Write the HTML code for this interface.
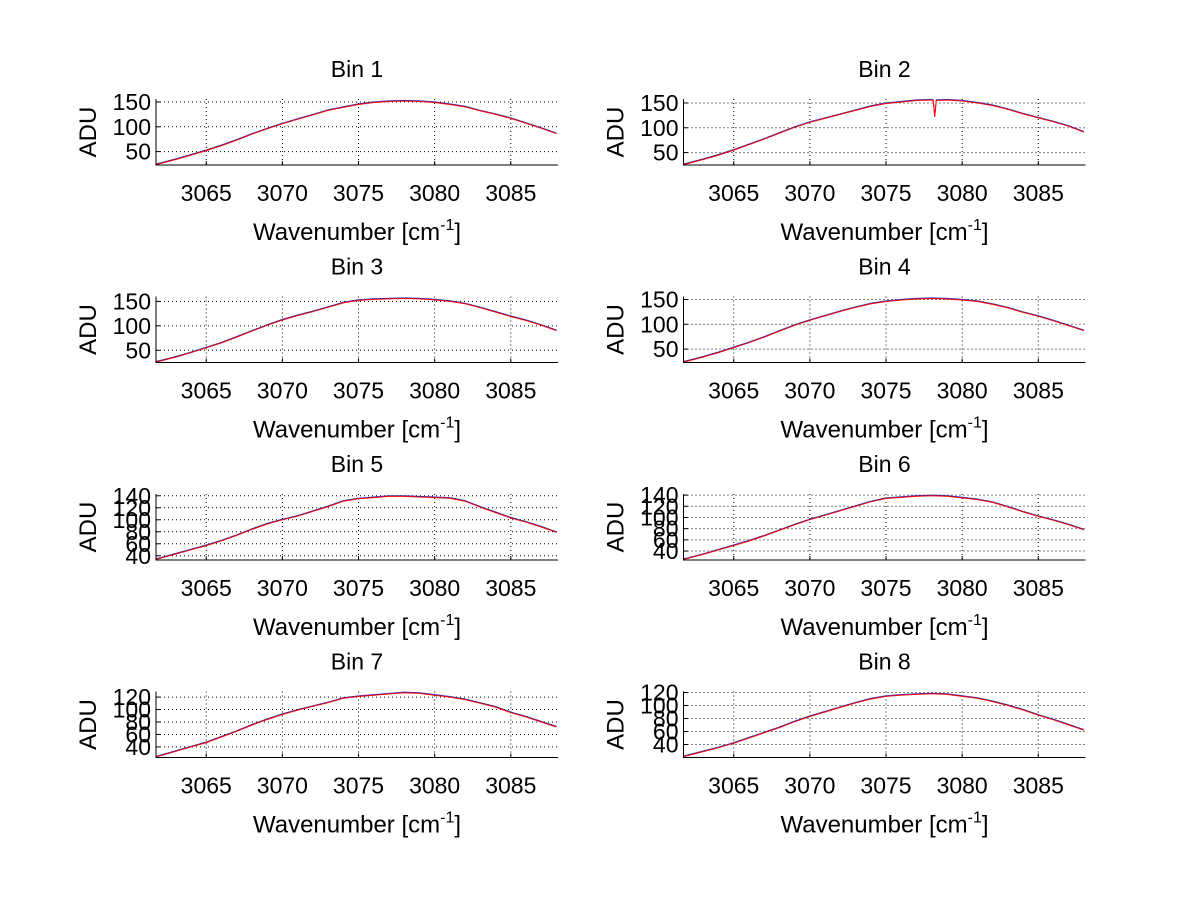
<!DOCTYPE html>
<html><head><meta charset="utf-8"><style>
body{margin:0;background:#fff;}
svg{display:block;font-family:"Liberation Sans",sans-serif;}
</style></head><body>
<svg id="fig" width="1200" height="901" viewBox="0 0 1200 901"></svg>
<script>
const wn = [3061.7,3062,3063,3064,3065,3066,3067,3068,3069,3070,3071,3072,3073,3074,3075,3076,3077,3078,3079,3080,3081,3082,3083,3084,3085,3086,3087,3088];
const wn2 = [3061.7,3062,3063,3064,3065,3066,3067,3068,3069,3070,3071,3072,3073,3074,3075,3076,3077,3078,3078.1,3078.2,3078.3,3079,3080,3081,3082,3083,3084,3085,3086,3087,3088];
const bin1 = [24,26,34,43,52,62,73,85,96,106,115,124,133,139,145,149,151,152,151,149,145,140,132,125,117,107,97,86];
const bin2 = [26,28,36,45,55,66,77,89,101,111,119,127,135,143,149,152,155,156,155,122,155,156,154,150,145,137,128,120,112,103,91];
const bin3 = [26,28,36,45,55,65,77,89,101,112,121,129,138,147,152,154,155,156,155,153,150,145,137,128,119,111,101,90];
const bin4 = [24,26,34,43,53,63,74,86,98,108,117,126,134,141,146,149,151,152,151,149,146,140,133,124,116,107,97,87];
const bin5 = [34,36,43,50,57,65,74,84,93,100,106,114,122,131,135,137,139,139,138,137,136,131,121,112,103,96,88,79];
const bin6 = [25,27,34,42,50,58,67,77,87,96,104,112,120,128,134,136,138,139,138,135,132,127,119,110,102,95,87,78];
const bin7 = [24,26,33,40,47,56,65,75,84,92,99,105,111,118,121,123,125,127,126,123,120,116,110,104,95,88,80,72];
const bin8 = [21,23,29,35,42,50,58,66,75,83,90,97,104,110,114,116,117,118,117,114,111,106,100,93,85,78,70,62];
const xTicks = [3065,3070,3075,3080,3085];
const yTicksA = [50,100,150];
const yTicksB = [40,60,80,100,120,140];
const yTicksC = [40,60,80,100,120];
const yLims = [[23,156],[25,158],[25,160],[23,156],[33,143],[24,142],[23,129],[20,121.5]];
const titles = ["Bin 1","Bin 2","Bin 3","Bin 4","Bin 5","Bin 6","Bin 7","Bin 8"];

const NS="http://www.w3.org/2000/svg";
const svg=document.getElementById('fig');
function mk(tag,attrs,parent){const e=document.createElementNS(NS,tag);for(const k in attrs)e.setAttribute(k,attrs[k]);(parent||svg).appendChild(e);return e;}
const series=[[wn,bin1],[wn2,bin2],[wn,bin3],[wn,bin4],[wn,bin5],[wn,bin6],[wn,bin7],[wn,bin8]];
const yticksFor=[yTicksA,yTicksA,yTicksA,yTicksA,yTicksB,yTicksB,yTicksC,yTicksC];
const tops=[99,296.5,494,691.5];
const lefts=[156,683.5];
const W=402,H=66,X0=3061.7,X1=3088.1;
for(let i=0;i<8;i++){
  const L=lefts[i%2],T=tops[Math.floor(i/2)];
  const g=mk('g',{});
  
  
  const [y0,y1]=yLims[i];
  const sx=v=>L+(v-X0)/(X1-X0)*W;
  const sy=v=>T+H-(v-y0)/(y1-y0)*H;
  mk('rect',{x:L,y:T,width:W,height:H,fill:'#fff'},g);
  xTicks.forEach(t=>{
    const gl=mk('line',{x1:sx(t),x2:sx(t),y1:T,y2:T+H,stroke:'#000','stroke-width':1,'stroke-dasharray':'1,3'},g);
    
    mk('line',{x1:sx(t),x2:sx(t),y1:T+H,y2:T+H-4,stroke:'#000'},g);
    const tl=mk('text',{x:sx(t),y:T+H+36,'font-size':23,'text-anchor':'middle'},g);
    tl.textContent=t;
    
    
  });
  yticksFor[i].forEach(t=>{
    mk('line',{x1:L,x2:L+W,y1:sy(t),y2:sy(t),stroke:'#000','stroke-width':1,'stroke-dasharray':'1,3'},g);
    mk('line',{x1:L,x2:L+4,y1:sy(t),y2:sy(t),stroke:'#000'},g);
    const tl=mk('text',{x:L-5,y:sy(t)+8,'font-size':23,'text-anchor':'end'},g);
    tl.textContent=t;
    
    
  });
  const [xs,ys]=series[i];
  const pts=xs.map((x,k)=>sx(x).toFixed(1)+','+sy(ys[k]).toFixed(1)).join(' ');
  const pb=mk('polyline',{points:pts,fill:'none',stroke:'#2030c0','stroke-width':1,transform:'translate(0,-0.6)'},g);
  
  
  const pr=mk('polyline',{points:pts,fill:'none',stroke:'#ff0000','stroke-width':1},g);
  
  
  mk('path',{d:`M${L} ${T}V${T+H}H${L+W}`,fill:'none',stroke:'#000','stroke-width':1},g);
  const tt=mk('text',{x:L+W/2,y:T-22,'font-size':23,'text-anchor':'middle'},g);
  tt.textContent=titles[i];
  
  
  const xl=mk('text',{x:L+W/2,y:T+H+75,'font-size':24,'text-anchor':'middle'},g);
  xl.innerHTML='Wavenumber [cm<tspan font-size="16" dy="-10">-1</tspan><tspan dy="10">]</tspan>';
  
  
  const yl=mk('text',{x:0,y:0,'font-size':24,'text-anchor':'middle',transform:`translate(${L-60},${T+H/2}) rotate(-90)`},g);
  yl.textContent='ADU';
  
  
}
</script>
</body></html>
